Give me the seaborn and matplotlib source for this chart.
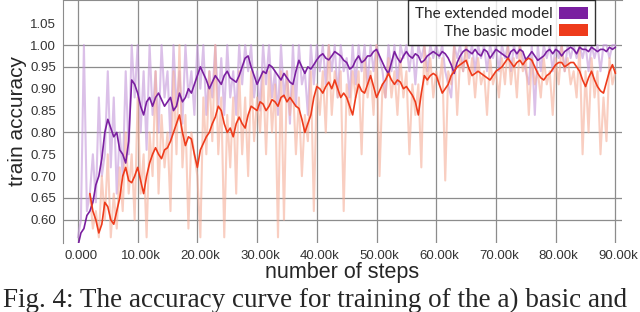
import numpy as np
import pandas as pd
import seaborn as sns
import matplotlib.pyplot as plt
from matplotlib.patches import Patch
from matplotlib.ticker import FuncFormatter
from matplotlib.transforms import ScaledTranslation

# step positions in thousands (one sample every 0.5k steps)
ext_steps = np.arange(0, 90.5, 0.5)
basic_steps = np.arange(2, 90.5, 0.5)

# smoothed curves
ext_smooth = [
    0.54, 0.57, 0.58, 0.61, 0.62, 0.64, 0.68, 0.70, 0.74, 0.80,
    0.83, 0.81, 0.79, 0.80, 0.76, 0.75, 0.73, 0.78, 0.92, 0.91,
    0.89, 0.86, 0.84, 0.87, 0.88, 0.86, 0.88, 0.89, 0.875, 0.86,
    0.87, 0.88, 0.85, 0.86, 0.89, 0.87, 0.88, 0.90, 0.89, 0.91,
    0.93, 0.95, 0.935, 0.92, 0.90, 0.915, 0.93, 0.92, 0.91, 0.93,
    0.94, 0.925, 0.92, 0.915, 0.93, 0.95, 0.97, 0.975, 0.95, 0.93,
    0.91, 0.925, 0.94, 0.935, 0.955, 0.95, 0.94, 0.93, 0.92, 0.935,
    0.925, 0.915, 0.91, 0.94, 0.965, 0.95, 0.935, 0.95, 0.945, 0.955,
    0.966, 0.975, 0.98, 0.97, 0.966, 0.975, 0.985, 0.98, 0.975, 0.965,
    0.96, 0.945, 0.95, 0.965, 0.975, 0.96, 0.965, 0.975, 0.975, 0.985,
    0.99, 0.975, 0.96, 0.945, 0.935, 0.96, 0.985, 0.97, 0.96, 0.975,
    0.985, 0.975, 0.97, 0.98, 0.975, 0.96, 0.965, 0.975, 0.98, 0.985,
    0.98, 0.975, 0.985, 0.98, 0.97, 0.955, 0.935, 0.96, 0.975, 0.985,
    0.99, 0.985, 0.98, 0.99, 0.98, 0.975, 0.99, 0.985, 0.97, 0.98,
    0.99, 0.985, 0.98, 0.975, 0.97, 0.985, 0.99, 0.98, 0.99, 0.985,
    0.966, 0.975, 0.985, 0.975, 0.965, 0.97, 0.975, 0.985, 0.99, 0.98,
    0.99, 0.985, 0.975, 0.985, 0.99, 0.995, 0.99, 0.98, 0.995, 0.99,
    0.99, 0.985, 0.995, 0.99, 0.985, 0.99, 0.99, 0.985, 0.995, 0.99,
    0.995,
]
basic_smooth = [
    0.66, 0.62, 0.60, 0.57, 0.59, 0.64, 0.63, 0.60, 0.59, 0.62,
    0.65, 0.70, 0.72, 0.69, 0.685, 0.70, 0.72, 0.69, 0.66, 0.70,
    0.73, 0.75, 0.765, 0.75, 0.74, 0.76, 0.765, 0.78, 0.80, 0.82,
    0.84, 0.80, 0.77, 0.79, 0.785, 0.75, 0.72, 0.76, 0.775, 0.79,
    0.80, 0.82, 0.835, 0.86, 0.85, 0.82, 0.80, 0.81, 0.79, 0.82,
    0.835, 0.82, 0.81, 0.84, 0.86, 0.855, 0.85, 0.87, 0.865, 0.85,
    0.86, 0.875, 0.87, 0.86, 0.88, 0.885, 0.87, 0.88, 0.87, 0.86,
    0.855, 0.83, 0.80, 0.82, 0.84, 0.88, 0.905, 0.90, 0.89, 0.905,
    0.915, 0.90, 0.92, 0.90, 0.88, 0.89, 0.88, 0.86, 0.84, 0.88,
    0.91, 0.895, 0.89, 0.91, 0.93, 0.905, 0.88, 0.895, 0.91, 0.92,
    0.935, 0.92, 0.91, 0.92, 0.915, 0.90, 0.905, 0.895, 0.885, 0.87,
    0.84, 0.89, 0.93, 0.92, 0.93, 0.935, 0.93, 0.91, 0.89, 0.90,
    0.91, 0.93, 0.94, 0.95, 0.955, 0.96, 0.965, 0.945, 0.93, 0.935,
    0.94, 0.935, 0.93, 0.925, 0.92, 0.93, 0.94, 0.945, 0.95, 0.96,
    0.97, 0.96, 0.95, 0.96, 0.965, 0.955, 0.965, 0.97, 0.965, 0.95,
    0.935, 0.925, 0.92, 0.93, 0.935, 0.945, 0.955, 0.96, 0.96, 0.95,
    0.955, 0.96, 0.96, 0.95, 0.94, 0.92, 0.905, 0.925, 0.94, 0.92,
    0.905, 0.895, 0.89, 0.915, 0.94, 0.955, 0.935,
]

# raw (unsmoothed) values
ext_raw = [
    0.56, 0.60, 1.00, 0.62, 0.66, 0.75, 0.64, 0.88, 0.70, 0.75,
    0.94, 0.72, 0.88, 0.66, 0.80, 0.70, 0.94, 0.75, 1.00, 0.88,
    1.00, 0.80, 0.94, 0.76, 1.00, 0.84, 0.94, 0.80, 1.00, 0.88,
    0.94, 0.78, 1.00, 0.86, 0.94, 0.82, 1.00, 0.88, 0.94, 0.84,
    1.00, 0.90, 1.00, 0.84, 0.94, 0.88, 1.00, 0.86, 0.97, 0.84,
    1.00, 0.88, 0.94, 0.84, 1.00, 0.91, 1.00, 0.94, 1.00, 0.88,
    0.94, 0.85, 1.00, 0.91, 1.00, 0.88, 0.94, 0.84, 1.00, 0.88,
    0.94, 0.82, 1.00, 0.86, 1.00, 0.91, 0.94, 0.84, 1.00, 0.91,
    1.00, 0.94, 1.00, 0.91, 1.00, 0.94, 1.00, 0.88, 1.00, 0.94,
    0.97, 0.88, 1.00, 0.91, 1.00, 0.94, 1.00, 0.91, 1.00, 0.94,
    1.00, 0.97, 0.94, 0.88, 1.00, 0.94, 1.00, 0.91, 1.00, 0.97,
    1.00, 0.94, 1.00, 0.91, 1.00, 0.97, 1.00, 0.94, 1.00, 0.97,
    1.00, 0.97, 1.00, 0.94, 0.91, 0.88, 1.00, 0.97, 1.00, 0.94,
    1.00, 0.97, 1.00, 0.94, 1.00, 0.97, 1.00, 0.94, 1.00, 0.97,
    1.00, 0.94, 1.00, 0.97, 1.00, 0.94, 1.00, 0.97, 1.00, 0.97,
    0.94, 0.91, 1.00, 0.84, 1.00, 0.94, 1.00, 0.97, 1.00, 0.94,
    1.00, 0.97, 1.00, 0.94, 1.00, 0.97, 1.00, 0.97, 1.00, 0.97,
    1.00, 0.94, 1.00, 0.97, 1.00, 0.94, 1.00, 1.00, 0.97, 1.00,
    1.00,
]
basic_raw = [
    0.66, 0.58, 0.62, 0.56, 0.70, 0.60, 0.75, 0.56, 0.66, 0.58,
    0.72, 0.62, 0.80, 0.66, 0.75, 0.60, 0.88, 0.66, 0.75, 0.56,
    0.80, 0.70, 0.94, 0.66, 0.84, 0.72, 0.80, 0.62, 0.94, 0.75,
    1.00, 0.72, 0.84, 0.58, 0.80, 0.75, 0.70, 0.56, 0.88, 0.75,
    0.94, 0.78, 1.00, 0.75, 0.88, 0.56, 0.84, 0.72, 0.88, 0.66,
    0.94, 0.75, 0.88, 0.70, 0.94, 0.78, 0.88, 0.80, 0.94, 0.75,
    0.94, 0.80, 0.91, 0.56, 0.94, 0.60, 0.94, 0.84, 0.91, 0.75,
    0.88, 0.70, 0.84, 0.78, 0.94, 0.62, 0.91, 0.84, 0.94, 0.80,
    1.00, 0.84, 0.94, 0.88, 0.94, 0.62, 0.91, 0.84, 0.94, 0.88,
    0.94, 0.75, 0.97, 0.88, 0.94, 0.84, 1.00, 0.70, 0.91, 0.88,
    0.97, 0.88, 0.94, 0.84, 0.97, 0.88, 0.94, 0.75, 0.91, 0.84,
    0.91, 0.72, 1.00, 0.91, 0.97, 0.88, 0.94, 0.91, 0.97, 0.69,
    0.94, 0.91, 1.00, 0.84, 0.97, 0.94, 1.00, 0.91, 0.97, 0.88,
    0.97, 0.91, 0.94, 0.84, 0.97, 0.91, 0.94, 0.88, 0.97, 0.91,
    1.00, 0.91, 0.97, 0.88, 1.00, 0.94, 0.97, 0.84, 0.97, 0.91,
    0.94, 0.88, 0.97, 0.91, 0.94, 0.84, 0.97, 0.91, 1.00, 0.94,
    0.97, 0.91, 0.94, 0.88, 1.00, 0.75, 0.94, 0.80, 0.97, 0.88,
    0.94, 0.75, 0.88, 0.78, 0.97, 0.91, 0.94,
]

models = ['The extended model', 'The basic model']
y_ticks = [0.60, 0.65, 0.70, 0.75, 0.80, 0.85, 0.90, 0.95, 1.00, 1.05]
grid_y = [0.60, 0.65, 0.80, 0.95, 1.00]

smooth_df = pd.concat([
    pd.DataFrame({'step': ext_steps * 1000, 'acc': ext_smooth, 'model': models[0]}),
    pd.DataFrame({'step': basic_steps * 1000, 'acc': basic_smooth, 'model': models[1]}),
])
raw_df = pd.concat([
    pd.DataFrame({'step': ext_steps * 1000, 'acc': ext_raw, 'model': models[0]}),
    pd.DataFrame({'step': basic_steps * 1000, 'acc': basic_raw, 'model': models[1]}),
])

line_pal = {models[0]: '#7a1fa0', models[1]: '#ee3b1b'}
raw_pal = {models[0]: '#c497da', models[1]: '#f5ae98'}

sns.set_style('white')
plt.rcParams['font.family'] = ['Liberation Sans', 'DejaVu Sans']

fig = plt.figure(figsize=(6.4, 3.12), dpi=100)
ax = fig.add_axes([63 / 640, 1 - 243 / 312, 559 / 640, 243 / 312])

sns.lineplot(data=raw_df, x='step', y='acc', hue='model', palette=raw_pal,
             estimator=None, lw=1.5, alpha=0.6, legend=False, ax=ax)
sns.lineplot(data=smooth_df, x='step', y='acc', hue='model', palette=line_pal,
             estimator=None, lw=1.2, legend=False, ax=ax)

for gy in grid_y:
    ax.axhline(gy, color='#8c8c8c', lw=0.9, zorder=0)
ax.set_xticks(range(0, 90001, 10000))
ax.grid(axis='x', color='#8c8c8c', lw=0.9)
ax.set_axisbelow(True)
ax.xaxis.set_major_formatter(FuncFormatter(lambda v, p: '0.000' if v == 0 else f'{v / 1000:.2f}k'))
ax.set_yticks(y_ticks)
ax.set_xlim(-2500, 91100)
ax.set_ylim(0.547, 1.103)

for s in ['right', 'bottom']:
    ax.spines[s].set_visible(False)
for s in ['left', 'top']:
    ax.spines[s].set_color('#8c8c8c')
ax.tick_params(length=0, labelsize=9.5, labelcolor='#333333', pad=5)
shift = ScaledTranslation(3 / 100, 0, fig.dpi_scale_trans)
for lab in ax.get_xticklabels():
    lab.set_transform(lab.get_transform() + shift)

ax.set_xlabel('number of steps', fontsize=15.5, labelpad=0)
ax.set_ylabel('train accuracy', fontsize=15, labelpad=2)

handles = [Patch(facecolor=line_pal[m], edgecolor='none', label=m) for m in models]
leg = fig.legend(handles=handles, loc='upper left', bbox_to_anchor=(408 / 640, 1.0),
                 markerfirst=False, frameon=True, fancybox=False, edgecolor='black',
                 prop={'family': 'Lato', 'size': 11}, handlelength=1.9, handleheight=0.8,
                 borderpad=0.45, labelspacing=0.22, handletextpad=0.4, borderaxespad=0)
leg.get_frame().set_linewidth(1.0)

fig.text(0.005, 1 - 307 / 312, 'Fig. 4: The accuracy curve for training of the a) basic and',
         family='Liberation Serif', fontsize=19.5, va='baseline', ha='left')

fig.savefig('out.png', dpi=100)
